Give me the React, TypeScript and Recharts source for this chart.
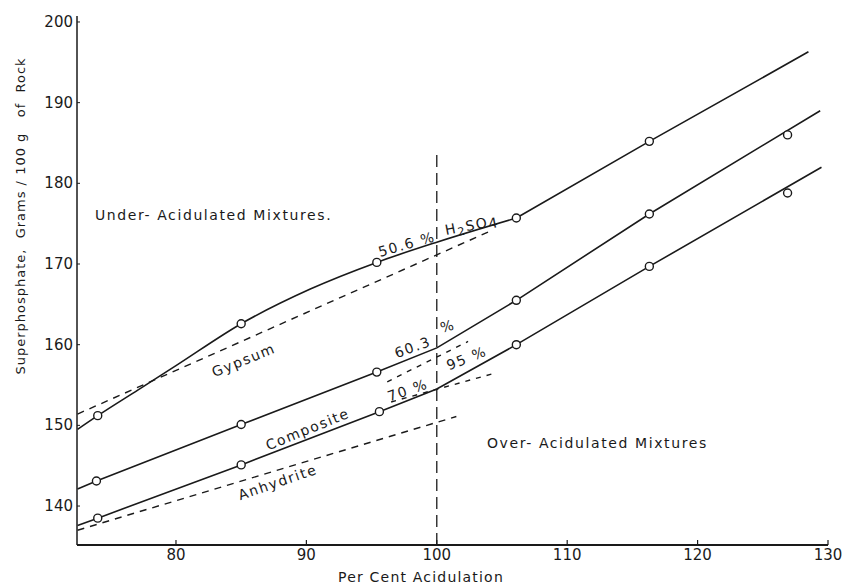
import { ComposedChart, Line, ReferenceLine, Scatter, XAxis, YAxis } from "recharts";

const xTicks = [80, 90, 100, 110, 120, 130];
const yTicks = [140, 150, 160, 170, 180, 190, 200];

// measured points (open circles)
const gypsumPoints = [
  { x: 74, y: 151.2 },
  { x: 85, y: 162.6 },
  { x: 95.4, y: 170.2 },
  { x: 106.1, y: 175.7 },
  { x: 116.3, y: 185.2 },
];
const compositePoints = [
  { x: 73.9, y: 143.1 },
  { x: 85, y: 150.1 },
  { x: 95.4, y: 156.6 },
  { x: 106.1, y: 165.5 },
  { x: 116.3, y: 176.2 },
  { x: 126.9, y: 186.0 },
];
const anhydritePoints = [
  { x: 74, y: 138.5 },
  { x: 85, y: 145.1 },
  { x: 95.6, y: 151.7 },
  { x: 106.1, y: 160.0 },
  { x: 116.3, y: 169.7 },
  { x: 126.9, y: 178.8 },
];

// drawn curves (gypsum in two pieces: curved under-acidulated part, straight beyond)
const gypsumCurveLow = [
  { x: 72.45, y: 149.5 },
  { x: 74, y: 151.2 },
  { x: 77.1, y: 154.4 },
  { x: 80, y: 157.4 },
  { x: 85, y: 162.6 },
  { x: 90.3, y: 166.9 },
  { x: 95.4, y: 170.2 },
  { x: 100, y: 172.7 },
  { x: 106.1, y: 175.7 },
];
const gypsumCurveHigh = [
  { x: 106.1, y: 175.7 },
  { x: 116.3, y: 185.2 },
  { x: 128.5, y: 196.3 },
];
const compositeCurve = [
  { x: 72.45, y: 142.1 },
  { x: 73.9, y: 143.1 },
  { x: 85, y: 150.1 },
  { x: 95.4, y: 156.6 },
  { x: 100, y: 159.6 },
  { x: 106.1, y: 165.5 },
  { x: 116.3, y: 176.2 },
  { x: 129.4, y: 189.0 },
];
const anhydriteCurve = [
  { x: 72.45, y: 137.6 },
  { x: 74, y: 138.5 },
  { x: 85, y: 145.1 },
  { x: 95.6, y: 151.7 },
  { x: 100, y: 154.5 },
  { x: 106.1, y: 160.0 },
  { x: 116.3, y: 169.7 },
  { x: 129.5, y: 182.0 },
];

// dashed lines
const gypsumDash = [
  { x: 72.45, y: 151.4 },
  { x: 104, y: 174.0 },
];
const anhydriteDash = [
  { x: 72.45, y: 137.0 },
  { x: 101.5, y: 151.1 },
];
const compositeDash = [
  { x: 96.2, y: 155.4 },
  { x: 102.4, y: 160.4 },
];
const middleDash = [
  { x: 96.5, y: 152.9 },
  { x: 104.3, y: 156.4 },
];

const ink = "#1a1a1a";
const font = "'DejaVu Sans', sans-serif";

const XTick = (props: any) => {
  const { x, y, payload } = props;
  return (
    <g>
      <line x1={x} x2={x} y1={y - 5} y2={y} stroke={ink} strokeWidth={1.2} />
      <text x={x} y={y + 15} textAnchor="middle" fontSize={15} fontFamily={font} fill={ink}>
        {payload.value}
      </text>
    </g>
  );
};

const YTick = (props: any) => {
  const { x, y, payload } = props;
  return (
    <g>
      <line x1={x} x2={x + 3} y1={y} y2={y} stroke={ink} strokeWidth={1} />
      <text x={x - 4} y={y + 5} textAnchor="end" fontSize={15} fontFamily={font} fill={ink}>
        {payload.value}
      </text>
    </g>
  );
};

const OpenCircle = (props: any) => (
  <circle cx={props.cx} cy={props.cy} r={4} fill="#fff" stroke={ink} strokeWidth={1.4} />
);

const lbl = { fontFamily: font, fontSize: 14, fill: ink, letterSpacing: 1.6 } as const;

export default function App() {
  return (
    <div style={{ position: "absolute", left: 0, top: 0, width: 845, height: 586, background: "#fff" }}>
      <ComposedChart width={845} height={586} margin={{ top: 16, right: 17, bottom: 0, left: 0 }}>
        <XAxis
          type="number"
          dataKey="x"
          domain={[72.41, 130]}
          ticks={xTicks}
          allowDataOverflow
          height={41}
          tickSize={0}
          tickMargin={0}
          tickLine={false}
          axisLine={{ stroke: ink, strokeWidth: 2 }}
          tick={<XTick />}
        />
        <YAxis
          type="number"
          dataKey="y"
          domain={[135.17, 200.74]}
          ticks={yTicks}
          allowDataOverflow
          width={77}
          tickSize={0}
          tickMargin={0}
          tickLine={false}
          axisLine={{ stroke: ink, strokeWidth: 1.5 }}
          tick={<YTick />}
        />
        <ReferenceLine
          segment={[
            { x: 100, y: 135.17 },
            { x: 100, y: 183.5 },
          ]}
          stroke={ink}
          strokeWidth={1.3}
          strokeDasharray="12 6"
        />
        <Line data={gypsumDash} dataKey="y" type="linear" stroke={ink} strokeWidth={1.4} strokeDasharray="7 6" dot={false} isAnimationActive={false} />
        <Line data={anhydriteDash} dataKey="y" type="linear" stroke={ink} strokeWidth={1.4} strokeDasharray="7 6" dot={false} isAnimationActive={false} />
        <Line data={compositeDash} dataKey="y" type="linear" stroke={ink} strokeWidth={1.4} strokeDasharray="5 6" dot={false} isAnimationActive={false} />
        <Line data={middleDash} dataKey="y" type="linear" stroke={ink} strokeWidth={1.4} strokeDasharray="5 6" dot={false} isAnimationActive={false} />
        <Line data={gypsumCurveLow} dataKey="y" type="monotone" stroke={ink} strokeWidth={1.6} dot={false} isAnimationActive={false} />
        <Line data={gypsumCurveHigh} dataKey="y" type="linear" stroke={ink} strokeWidth={1.6} dot={false} isAnimationActive={false} />
        <Line data={compositeCurve} dataKey="y" type="linear" stroke={ink} strokeWidth={1.6} dot={false} isAnimationActive={false} />
        <Line data={anhydriteCurve} dataKey="y" type="linear" stroke={ink} strokeWidth={1.6} dot={false} isAnimationActive={false} />
        <Scatter data={gypsumPoints} dataKey="y" shape={<OpenCircle />} isAnimationActive={false} />
        <Scatter data={compositePoints} dataKey="y" shape={<OpenCircle />} isAnimationActive={false} />
        <Scatter data={anhydritePoints} dataKey="y" shape={<OpenCircle />} isAnimationActive={false} />
      </ComposedChart>
      <svg width={845} height={586} style={{ position: "absolute", left: 0, top: 0, pointerEvents: "none" }}>
        <text x={21} y={216} transform="rotate(-90 21 216)" textAnchor="middle" dominantBaseline="middle" style={{ whiteSpace: "pre" }} {...lbl} fontSize={13} letterSpacing={1}>
          {"Superphosphate,  Grams / 100 g   of  Rock"}
        </text>
        <text x={421} y={582} textAnchor="middle" {...lbl} fontSize={14} letterSpacing={1.2}>
          Per Cent Acidulation
        </text>
        <text x={95} y={220} {...lbl}>Under- Acidulated Mixtures.</text>
        <text x={487} y={448} {...lbl}>Over- Acidulated Mixtures</text>
        <text x={244} y={361} transform="rotate(-22 244 361)" textAnchor="middle" dominantBaseline="middle" {...lbl}>Gypsum</text>
        <text x={308} y={430} transform="rotate(-22 308 430)" textAnchor="middle" dominantBaseline="middle" {...lbl}>Composite</text>
        <text x={278} y={483} transform="rotate(-19 278 483)" textAnchor="middle" dominantBaseline="middle" {...lbl}>Anhydrite</text>
        <text x={407} y={245} transform="rotate(-16 407 245)" textAnchor="middle" dominantBaseline="middle" {...lbl}>50.6 %</text>
        <text x={472} y={226} transform="rotate(-11 472 226)" textAnchor="middle" dominantBaseline="middle" {...lbl}>
          H<tspan dy={4} fontSize={11}>2</tspan>
          <tspan dy={-4}>SO</tspan>
          <tspan dy={2}>4</tspan>
        </text>
        <text x={413} y={348} transform="rotate(-20 413 348)" textAnchor="middle" dominantBaseline="middle" {...lbl}>60.3</text>
        <text x={448} y={327} transform="rotate(-15 448 327)" textAnchor="middle" dominantBaseline="middle" {...lbl}>%</text>
        <text x={408} y={391} transform="rotate(-19 408 391)" textAnchor="middle" dominantBaseline="middle" {...lbl}>70 %</text>
        <text x={467} y={359} transform="rotate(-22 467 359)" textAnchor="middle" dominantBaseline="middle" {...lbl}>95 %</text>
      </svg>
    </div>
  );
}
